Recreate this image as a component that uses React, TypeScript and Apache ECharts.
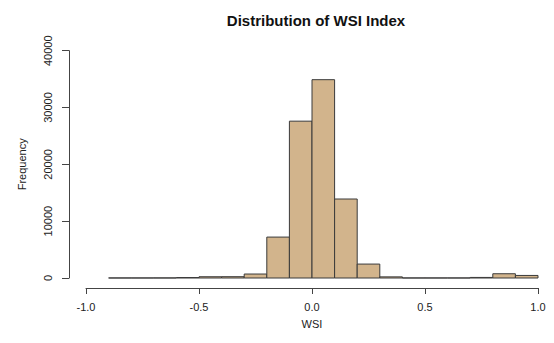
import React, { useEffect, useRef } from "react";
import * as echarts from "echarts";

const binStarts = [-0.9, -0.8, -0.7, -0.6, -0.5, -0.4, -0.3, -0.2, -0.1, 0.0, 0.1, 0.2, 0.3, 0.4, 0.5, 0.6, 0.7, 0.8, 0.9];
const binWidth = 0.1;
const counts = [10, 10, 15, 80, 220, 230, 700, 7200, 27600, 34900, 13900, 2450, 200, 10, 10, 10, 100, 750, 450];
const xTicks = [-1.0, -0.5, 0.0, 0.5, 1.0];
const yTicks = [0, 10000, 20000, 30000, 40000];

const FONT = "Liberation Sans, Arial, Helvetica, sans-serif";

export default function App() {
  const ref = useRef<HTMLDivElement>(null);
  useEffect(() => {
    if (!ref.current) return;
    const chart = echarts.init(ref.current, null, { renderer: "svg" });
    const data = binStarts.map((s, i) => [s, +(s + binWidth).toFixed(2), counts[i]]);
    chart.setOption({
      animation: false,
      backgroundColor: "#ffffff",
      title: {
        text: "Distribution of WSI Index",
        left: 311,
        textAlign: "center",
        top: 8,
        textStyle: { fontFamily: FONT, fontSize: 15, fontWeight: "bold", color: "#111" },
      },
      grid: { left: 86, right: 16, top: 50.7, bottom: 65 },
      xAxis: {
        type: "value",
        min: xTicks[0],
        max: xTicks[xTicks.length - 1],
        interval: 0.5,
        offset: 10,
        name: "WSI",
        nameLocation: "middle",
        nameGap: 30,
        nameTextStyle: { fontFamily: FONT, fontSize: 11, color: "#222" },
        axisLine: { show: true, onZero: false, lineStyle: { color: "#444", width: 1 } },
        axisTick: { show: true, length: 6, lineStyle: { color: "#444" } },
        axisLabel: {
          fontFamily: FONT,
          fontSize: 11,
          color: "#222",
          margin: 13,
          formatter: (v: number) => v.toFixed(1),
        },
        splitLine: { show: false },
      },
      yAxis: {
        type: "value",
        min: yTicks[0],
        max: yTicks[yTicks.length - 1],
        interval: 10000,
        offset: 17,
        name: "Frequency",
        nameLocation: "middle",
        nameRotate: 90,
        nameGap: 42,
        nameTextStyle: { fontFamily: FONT, fontSize: 11, color: "#222" },
        axisLine: { show: true, onZero: false, lineStyle: { color: "#444", width: 1 } },
        axisTick: { show: true, length: 7, lineStyle: { color: "#444" } },
        axisLabel: {
          fontFamily: FONT,
          fontSize: 11,
          color: "#222",
          rotate: 90,
          margin: 16,
          formatter: (v: number) => String(v),
        },
        splitLine: { show: false },
      },
      series: [
        {
          type: "custom",
          data,
          encode: { x: [0, 1], y: 2 },
          renderItem: (params: any, api: any) => {
            const lo = api.value(0);
            const hi = api.value(1);
            const c = api.value(2);
            const p1 = api.coord([lo, c]);
            const p2 = api.coord([hi, 0]);
            return {
              type: "rect",
              shape: { x: p1[0], y: p1[1], width: p2[0] - p1[0], height: p2[1] - p1[1] },
              style: { fill: "#D2B48C", stroke: "#3a3a3a", lineWidth: 1 },
            };
          },
        },
      ],
    });
    return () => chart.dispose();
  }, []);
  return (
    <div
      ref={ref}
      style={{ position: "fixed", left: 0, top: 0, width: 554, height: 343, background: "#fff" }}
    />
  );
}
